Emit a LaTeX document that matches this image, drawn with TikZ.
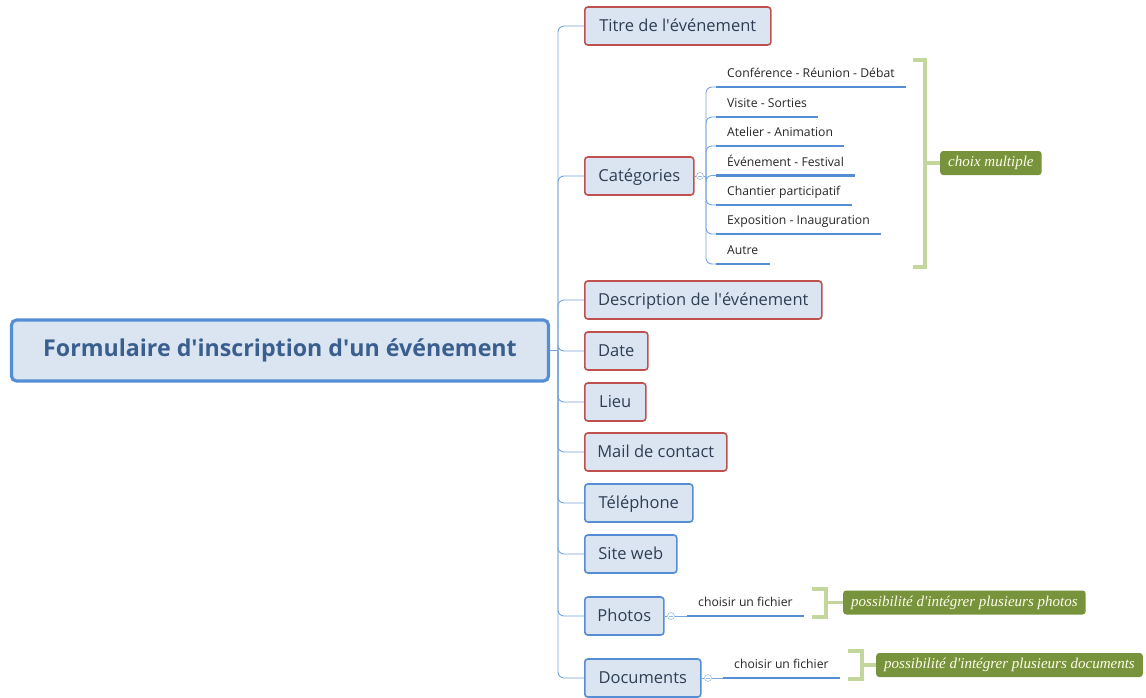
\documentclass[tikz,border=0pt]{standalone}
\usepackage{fontspec}
\setmainfont{Open Sans}
\newfontfamily\notefont{Liberation Serif}
\definecolor{boxfill}{HTML}{DBE5F1}
\definecolor{redline}{HTML}{C0504D}
\definecolor{blueline}{HTML}{558ED5}
\definecolor{boxtext}{HTML}{2E3F55}
\definecolor{roottext}{HTML}{3A5F8F}
\definecolor{notefill}{HTML}{77933C}
\definecolor{bracketgreen}{HTML}{C3D69B}
\tikzset{
  topic/.style={draw, line width=1.6pt, fill=boxfill, rounded corners=3pt, anchor=west,
    minimum height=38pt, inner xsep=0pt, text height=14pt, text depth=3pt,
    text=boxtext, font=\fontsize{16.5}{19}\selectfont},
  redtopic/.style={topic, draw=redline},
  bluetopic/.style={topic, draw=blueline},
  subtopic/.style={anchor=south west, inner xsep=11pt, inner ysep=6pt,
    text height=9pt, text depth=3pt, text=black!85, font=\fontsize{12.2}{14}\selectfont},
  branch/.style={draw=blueline!80, line width=0.9pt, rounded corners=6pt},
  uline/.style={draw=blueline, line width=2.4pt},
  bracket/.style={draw=bracketgreen, line width=3.5pt},
  note/.style={fill=notefill, rounded corners=3pt, anchor=west, text=white!92!yellow,
    inner xsep=8pt, minimum height=24pt, font=\notefont\itshape\fontsize{15}{17}\selectfont},
  knob/.style={draw=blueline!60, line width=0.6pt, fill=white, circle, inner sep=0pt, minimum size=7pt,
    path picture={\draw[blueline!60, line width=0.6pt] ([xshift=1.6pt]path picture bounding box.west) -- ([xshift=-1.6pt]path picture bounding box.east);}}
}
\begin{document}
\begin{tikzpicture}[x=1pt, y=-1pt]
    \useasboundingbox (0,0) rectangle (1146,697);

    \node[draw=blueline, line width=3.2pt, fill=boxfill, rounded corners=5pt,
      minimum width=537pt, minimum height=61pt, text=roottext,
      font=\bfseries\fontsize{23.2}{28}\selectfont] (root) at (280,350.5) {Formulaire d\textquotesingle inscription d\textquotesingle un événement};

    \node[redtopic, minimum width=186pt] (titre) at (584,26) {Titre de l\textquotesingle événement};
    \node[redtopic, minimum width=109pt] (categ) at (584,176) {Catégories};
    \node[redtopic, minimum width=237pt] (descr) at (584,300) {Description de l\textquotesingle événement};
    \node[redtopic, minimum width=63pt]  (date)  at (584,351) {Date};
    \node[redtopic, minimum width=61pt]  (lieu)  at (584,402) {Lieu};
    \node[redtopic, minimum width=142pt] (mail)  at (584,452) {Mail de contact};
    \node[bluetopic, minimum width=108pt] (tel)  at (584,503) {Téléphone};
    \node[bluetopic, minimum width=92pt] (web)   at (584,554) {Site web};
    \node[bluetopic, minimum width=79pt] (photo) at (584,616) {Photos};
    \node[bluetopic, minimum width=116pt] (docs) at (584,678) {Documents};

    \coordinate (hub) at (558,350.5);
    \draw[branch] (root.east) -- (hub);
    \foreach \t in {titre,categ,descr,date,lieu,mail,tel,web,photo,docs}
        \draw[branch] (hub) |- (\t.west);

    \node[knob] (catknob) at (700,176) {};
    \coordinate (catspine) at (706,176);
    \draw[branch] (categ.east) -- (catknob) -- (catspine);

    \node[subtopic] (conf)  at (716,87)  {Conférence - Réunion - Débat};
    \node[subtopic] (visit) at (716,117) {Visite - Sorties};
    \node[subtopic] (atel)  at (716,146) {Atelier - Animation};
    \node[subtopic] (event) at (716,175.5) {Événement - Festival};
    \node[subtopic] (chant) at (716,205) {Chantier participatif};
    \node[subtopic] (expo)  at (716,234) {Exposition - Inauguration};
    \node[subtopic] (autre) at (716,264) {Autre};

    \foreach \s in {conf,visit,atel,event,chant,expo,autre} {
        \draw[branch] (catspine) |- (\s.south west);
        \draw[uline] (\s.south west) -- (\s.south east);
    }

    \node[note] (choix) at (940,163) {choix multiple};
    \coordinate (choixtop) at (913,60);
    \coordinate (choixbot) at (913,267);
    \draw[bracket] (choixtop) -- ++(12,0) |- (choixbot);
    \draw[bracket] (choix.west) -- ++(-15,0);

    \node[knob] (photoknob) at (671,616) {};
    \node[subtopic] (photofile) at (687,616) {choisir un fichier};
    \draw[branch] (photo.east) -- (photoknob) -- (photofile.south west);
    \draw[uline] (photofile.south west) -- (photofile.south east);

    \node[note] (photonote) at (843,602.5) {possibilité d\textquotesingle intégrer plusieurs photos};
    \coordinate (phototop) at (812,589);
    \coordinate (photobot) at (812,617);
    \draw[bracket] (phototop) -- ++(14,0) |- (photobot);
    \draw[bracket] (photonote.west) -- ++(-17,0);

    \node[knob] (docsknob) at (708,678) {};
    \node[subtopic] (docsfile) at (723,678) {choisir un fichier};
    \draw[branch] (docs.east) -- (docsknob) -- (docsfile.south west);
    \draw[uline] (docsfile.south west) -- (docsfile.south east);

    \node[note] (docsnote) at (876,665) {possibilité d\textquotesingle intégrer plusieurs documents};
    \coordinate (docstop) at (848,651);
    \coordinate (docsbot) at (848,679);
    \draw[bracket] (docstop) -- ++(14,0) |- (docsbot);
    \draw[bracket] (docsnote.west) -- ++(-14,0);
\end{tikzpicture}
\end{document}
